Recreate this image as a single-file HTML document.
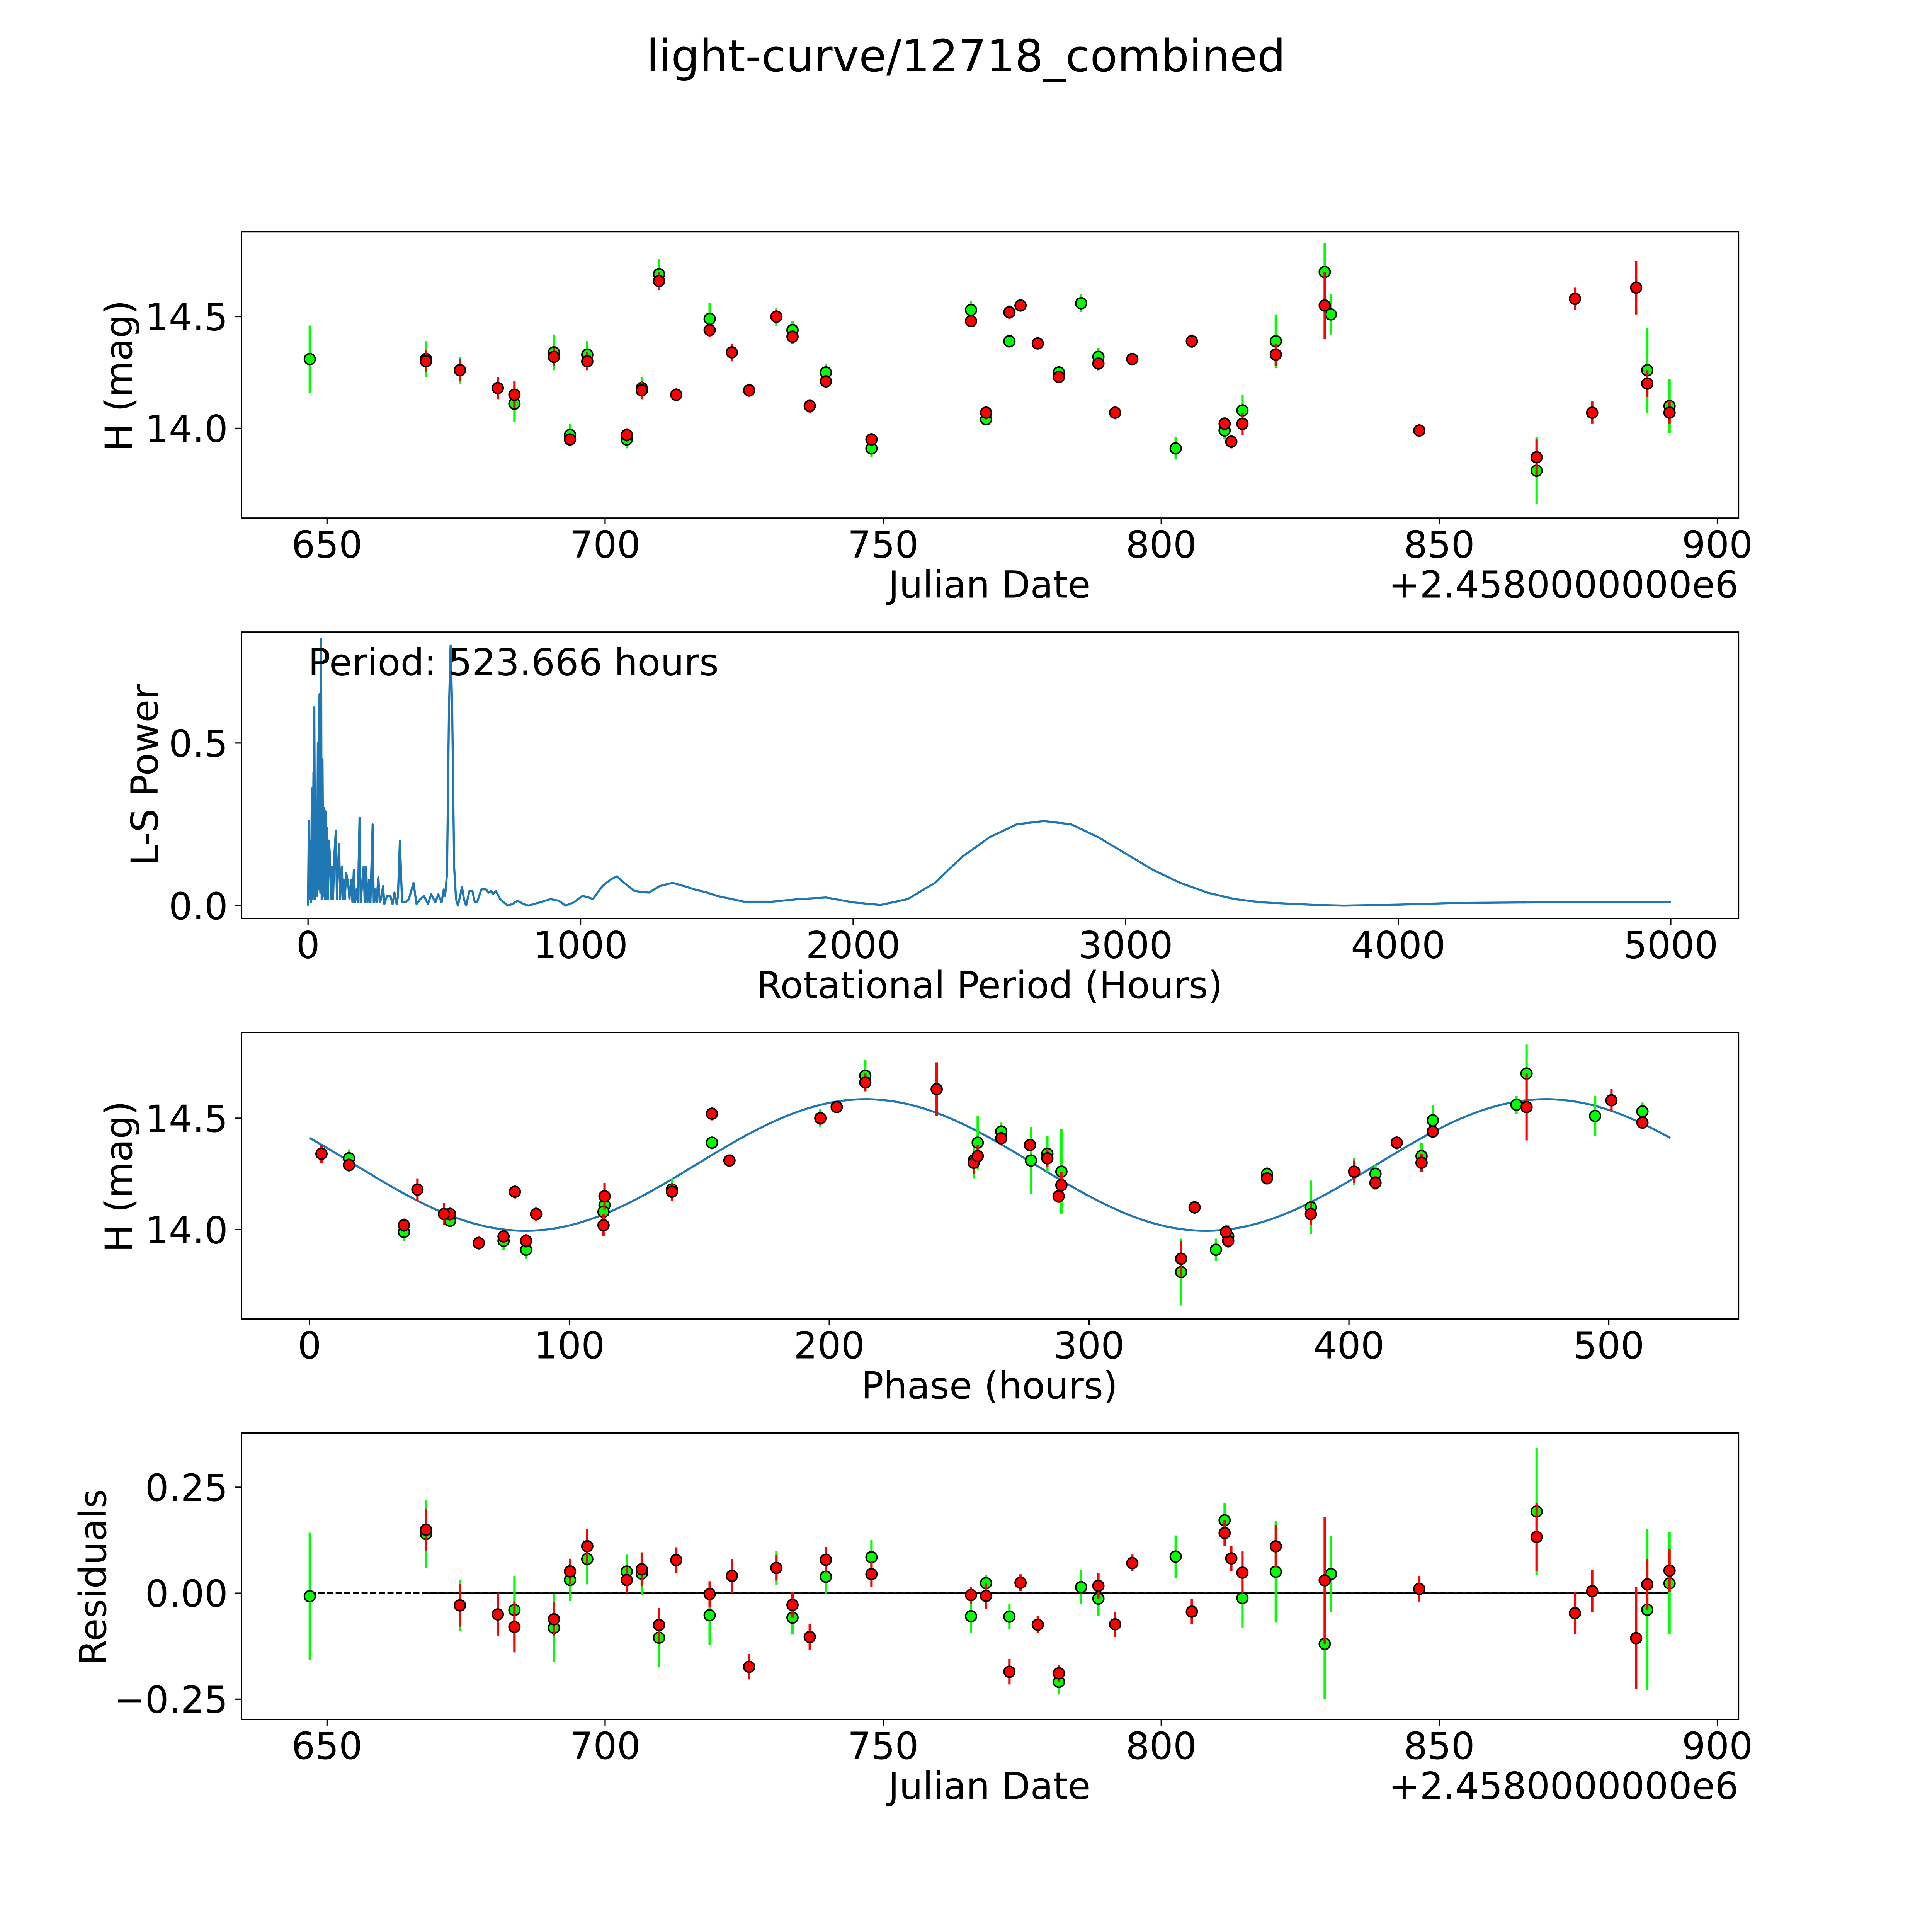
<!DOCTYPE html>
<html><head><meta charset="utf-8"><title>light-curve/12718_combined</title>
<style>html,body{margin:0;padding:0;background:#fff;width:100vw;height:100vh;overflow:hidden}svg{display:block;position:fixed;left:0;top:0;width:100vw;height:100vh}text{font-family:"DejaVu Sans","Liberation Sans",sans-serif;fill:#000}</style>
</head><body>
<svg id="fig" xmlns="http://www.w3.org/2000/svg" viewBox="0 0 1568 1568" preserveAspectRatio="xMidYMid meet">
<rect width="1568" height="1568" fill="#fff"/>
<text x="784" y="58" font-size="36.2" text-anchor="middle">light-curve/12718_combined</text>
</svg>
<script>
// ---- data ----
const greenJD = [646.9,667.8,673.9,683.7,690.8,693.7,696.8,703.9,706.6,709.7,718.8,730.8,733.7,739.7,747.9,765.8,768.5,772.7,781.6,785.6,788.7,802.6,811.4,814.6,820.6,829.4,830.5,867.5,887.4,891.4];
const greenH = [14.31,14.31,14.26,14.11,14.34,13.97,14.33,13.95,14.18,14.69,14.49,14.50,14.44,14.25,13.91,14.53,14.04,14.39,14.25,14.56,14.32,13.91,13.99,14.08,14.39,14.70,14.51,13.81,14.26,14.10];
const greenErr = [0.15,0.08,0.06,0.08,0.08,0.05,0.06,0.04,0.05,0.07,0.07,0.04,0.04,0.04,0.04,0.04,0.02,0.03,0.03,0.04,0.04,0.05,0.04,0.07,0.12,0.13,0.09,0.15,0.19,0.12];
const redJD = [667.8,673.9,680.7,683.7,690.8,693.7,696.8,703.9,706.6,709.7,712.8,718.8,722.8,725.9,730.8,733.7,736.8,739.7,747.9,765.8,768.5,772.7,774.7,777.8,781.6,788.7,791.7,794.8,805.5,811.4,812.6,814.6,820.6,829.4,846.4,867.5,874.4,877.5,885.4,887.4,891.4];
const redH = [14.30,14.26,14.18,14.15,14.32,13.95,14.30,13.97,14.17,14.66,14.15,14.44,14.34,14.17,14.50,14.41,14.10,14.21,13.95,14.48,14.07,14.52,14.55,14.38,14.23,14.29,14.07,14.31,14.39,14.02,13.94,14.02,14.33,14.55,13.99,13.87,14.58,14.07,14.63,14.20,14.07];
const redErr = [0.05,0.05,0.05,0.06,0.04,0.03,0.04,0.03,0.04,0.04,0.03,0.03,0.04,0.03,0.03,0.03,0.03,0.03,0.03,0.02,0.03,0.03,0.02,0.02,0.02,0.03,0.03,0.02,0.03,0.03,0.03,0.05,0.05,0.15,0.03,0.08,0.05,0.05,0.12,0.06,0.05];
const lsPeriods = [0,3,5,8,11,14,17,20,22,23,26,30,33,36,39,42,45,48,50,53,56,59,62,64,67,70,73,76,80,84,88,92,96,102,106,110,114,118,124,128,131,135,140,147,152,158,163,168,173,178,183,189,193,198,204,208,213,218,224,229,237,241,246,251,258,263,268,275,280,290,302,310,317,325,330,337,345,357,370,387,398,412,425,440,452,467,478,490,498,503,510,517,523,529,536,543,550,558,565,572,580,592,603,612,620,636,653,662,672,678,689,705,732,750,769,790,809,850,890,920,945,975,1007,1030,1045,1080,1110,1133,1160,1196,1220,1251,1290,1337,1380,1417,1465,1500,1600,1700,1800,1900,2000,2100,2200,2300,2400,2500,2600,2700,2800,2900,3000,3100,3200,3300,3400,3500,3700,3800,4000,4200,4500,5000];
const lsPowers = [0,0.26,0.02,0.2,0.01,0.36,0.02,0.41,0.03,0.61,0.02,0.27,0.03,0.5,0.05,0.65,0.04,0.82,0.02,0.45,0.03,0.3,0.02,0.29,0.02,0.24,0.02,0.2,0.16,0.02,0.12,0.02,0.15,0.23,0.02,0.12,0.19,0.02,0.12,0.02,0.08,0.02,0.1,0.07,0.02,0.08,0.01,0.11,0.01,0.05,0.01,0.27,0.01,0.06,0.12,0.01,0.12,0.01,0.08,0.01,0.25,0.01,0.05,0.01,0.087,0.01,0.02,0.06,0.005,0.03,0.03,0.005,0.04,0.005,0.03,0.2,0.01,0.01,0.02,0.07,0.005,0.02,0.03,0.005,0.035,0.01,0.035,0.01,0.05,0.03,0.1,0.6,0.8,0.6,0.12,0.02,0.0,0.03,0.057,0.02,0.0,0.045,0.045,0.01,0.01,0.05,0.05,0.04,0.045,0.035,0.045,0.02,0.0,0.005,0.015,0.005,0.0,0.01,0.02,0.015,0.0,0.01,0.03,0.025,0.02,0.06,0.08,0.09,0.07,0.046,0.042,0.04,0.06,0.07,0.06,0.05,0.04,0.03,0.012,0.012,0.02,0.025,0.01,0.002,0.02,0.07,0.15,0.21,0.25,0.26,0.25,0.21,0.16,0.11,0.07,0.04,0.02,0.01,0.002,0.0,0.003,0.008,0.01,0.01];
const periodHours = 523.666;
const t0 = 657.15;
const modelMean = 14.29, modelAmp = 0.295, modelPeakPhase = 214;
const jdTicks = [650,700,750,800,850,900];
const hTicks = [14.0,14.5];
const lsXTicks = [0,1000,2000,3000,4000,5000];
const lsYTicks = [0.0,0.5];
const phaseTicks = [0,100,200,300,400,500];
const resTicks = [0.25,0.00,-0.25];
const resTickLabels = ["0.25","0.00","\u22120.25"];

// ---- layout ----
const NS="http://www.w3.org/2000/svg";
const svg=document.getElementById('fig');
const L=196,R=1411,FS=30.2;
const panels=[{t:188,b:420.5},{t:513,b:745.5},{t:838,b:1070.5},{t:1163,b:1395.5}];
function mk(tag,attrs,parent){const e=document.createElementNS(NS,tag);for(const k in attrs)e.setAttribute(k,attrs[k]);(parent||svg).appendChild(e);return e;}
const lin=(d0,d1,p0,p1)=>v=>p0+(v-d0)*(p1-p0)/(d1-d0);
const xJD=lin(650,900,265.4,1393.8);
const yH1=lin(14.0,14.5,347.6,257.0);
const xLS=lin(0,5000,250,1356);
const yLS=lin(0,0.5,735,603);
const xPh=lin(0,500,251.2,1305.7);
const yH3=lin(14.0,14.5,998,907.5);
const yRes=lin(0,0.25,1293,1207);
function model(ph){return modelMean+modelAmp*Math.cos(2*Math.PI*(ph-modelPeakPhase)/(periodHours/2));}
function phaseOf(jd){let p=((jd-t0)*24)%periodHours;if(p<0)p+=periodHours;return p;}

function axesFrame(i,name){const p=panels[i];
  const r=mk('rect',{x:L,y:p.t,width:R-L,height:p.b-p.t,fill:'none',stroke:'#000','stroke-width':1.1});
  
  
}
function xTicks(i,ticks,fx,labels,name){const p=panels[i];
  ticks.forEach((v,k)=>{const x=fx(v);
    const t=mk('line',{x1:x,x2:x,y1:p.b,y2:p.b+5,stroke:'#000','stroke-width':1});
    
    
    const tx=mk('text',{x:x,y:p.b+32,'font-size':FS,'text-anchor':'middle'});
    tx.textContent=labels?labels[k]:String(v);
    
    
  });
}
function yTicks(i,ticks,fy,labels,name){
  ticks.forEach((v,k)=>{const y=fy(v);
    const t=mk('line',{x1:L-5,x2:L,y1:y,y2:y,stroke:'#000','stroke-width':1});
    
    
    const tx=mk('text',{x:L-11,y:y+11,'font-size':FS,'text-anchor':'end'});
    tx.textContent=labels[k];
    
    
  });
}
function label(txt,x,y,rot,name,anchor){
  const t=mk('text',{x:x,y:y,'font-size':FS,'text-anchor':anchor||'middle'});
  if(rot)t.setAttribute('transform','rotate(-90 '+x+' '+y+')');
  t.textContent=txt;
  
  
}
function errSeries(xs,ys,es,fx,fy,color,name){
  const g=mk('g',{});
  
  
  xs.forEach((xv,k)=>{const x=fx(xv);
    const l=mk('line',{x1:x,x2:x,y1:fy(ys[k]-es[k]),y2:fy(ys[k]+es[k]),stroke:color,'stroke-width':1.9},g);
    
    
  });
  xs.forEach((xv,k)=>{
    const c=mk('circle',{cx:fx(xv),cy:fy(ys[k]),r:4.4,fill:color,stroke:'#000','stroke-width':1.2},g);
    
    
  });
}
const GREEN='#00ff00',RED='#ff0000',BLUE='#1f77b4';

// Panel 1: light curve
errSeries(greenJD,greenH,greenErr,xJD,yH1,GREEN,'green-lightcurve');
errSeries(redJD,redH,redErr,xJD,yH1,RED,'red-lightcurve');
axesFrame(0,'lightcurve-axes');
xTicks(0,jdTicks,xJD,null,'lightcurve');
yTicks(0,hTicks,yH1,['14.0','14.5'],'lightcurve');
label('Julian Date',803,485,false,'lightcurve-x-axis-title');
label('+2.4580000000e6',1411,485,false,'lightcurve-x-offset','end');
label('H (mag)',107,305,true,'lightcurve-y-axis-title');

// Panel 2: periodogram
{
  let d='';lsPeriods.forEach((p,k)=>{d+=(k?'L':'M')+xLS(p).toFixed(2)+','+yLS(lsPowers[k]).toFixed(2);});
  const path=mk('path',{d:d,fill:'none',stroke:BLUE,'stroke-width':1.7,'stroke-linejoin':'round'});
  
  
}
axesFrame(1,'periodogram-axes');
xTicks(1,lsXTicks,xLS,null,'periodogram');
yTicks(1,lsYTicks,yLS,['0.0','0.5'],'periodogram');
label('Period: '+periodHours.toFixed(3)+' hours',250,548,false,'period-annotation','start');
label('Rotational Period (Hours)',803,810,false,'periodogram-x-axis-title');
label('L-S Power',128,629,true,'periodogram-y-axis-title');

// Panel 3: phased
{
  let d='';for(let i=0;i<=200;i++){const ph=periodHours*i/200;d+=(i?'L':'M')+xPh(ph).toFixed(2)+','+yH3(model(ph)).toFixed(2);}
  const path=mk('path',{d:d,fill:'none',stroke:BLUE,'stroke-width':1.7});
  
  
}
errSeries(greenJD.map(phaseOf),greenH,greenErr,xPh,yH3,GREEN,'green-phased');
errSeries(redJD.map(phaseOf),redH,redErr,xPh,yH3,RED,'red-phased');
axesFrame(2,'phase-axes');
xTicks(2,phaseTicks,xPh,null,'phase');
yTicks(2,hTicks,yH3,['14.0','14.5'],'phase');
label('Phase (hours)',803,1135,false,'phase-x-axis-title');
label('H (mag)',107,955,true,'phase-y-axis-title');

// Panel 4: residuals
{
  const l=mk('line',{x1:xJD(Math.min(...greenJD)),x2:xJD(Math.max(...greenJD)),y1:yRes(0),y2:yRes(0),stroke:'#000','stroke-width':1.4,'stroke-dasharray':'5,2'});
  
  
  const l2=mk('line',{x1:xJD(Math.min(...redJD)),x2:xJD(Math.max(...redJD)),y1:yRes(0),y2:yRes(0),stroke:'#000','stroke-width':1.2});
  
  
}
errSeries(greenJD,greenJD.map((j,k)=>model(phaseOf(j))-greenH[k]),greenErr,xJD,yRes,GREEN,'green-residuals');
errSeries(redJD,redJD.map((j,k)=>model(phaseOf(j))-redH[k]),redErr,xJD,yRes,RED,'red-residuals');
axesFrame(3,'residuals-axes');
xTicks(3,jdTicks,xJD,null,'residuals');
yTicks(3,resTicks,yRes,resTickLabels,'residuals');
label('Julian Date',803,1460,false,'residuals-x-axis-title');
label('+2.4580000000e6',1411,1460,false,'residuals-x-offset','end');
label('Residuals',86,1280,true,'residuals-y-axis-title');
</script>
</body></html>
